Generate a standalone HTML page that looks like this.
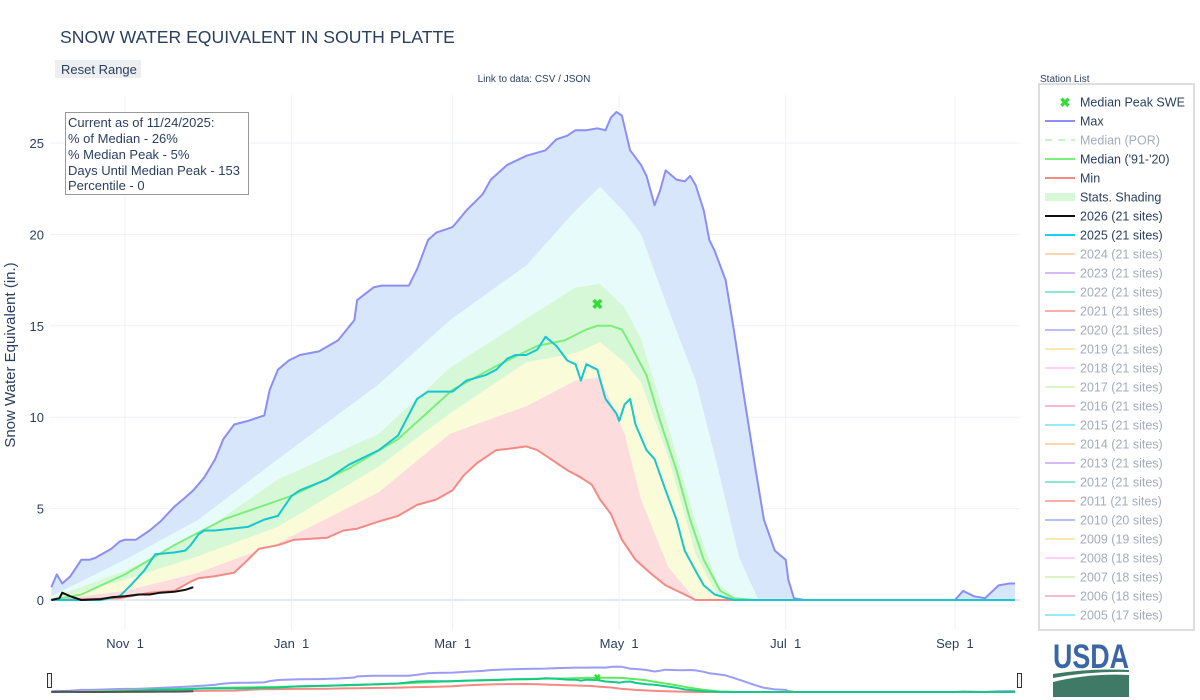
<!DOCTYPE html>
<html><head><meta charset="utf-8"><style>
html,body{margin:0;padding:0;background:#fff;width:1200px;height:700px;overflow:hidden;font-family:"Liberation Sans",Arial,sans-serif;}
svg text{font-family:"Liberation Sans",Arial,sans-serif;}
</style></head><body>
<svg id="chart" width="1200" height="700" xmlns="http://www.w3.org/2000/svg">
<text x="60" y="43" font-size="17.6" fill="#2a3f5f">SNOW WATER EQUIVALENT IN SOUTH PLATTE</text>
<g><rect x="55" y="60" width="86" height="18" fill="#eceef0"/><text x="61" y="74" font-size="13" fill="#2a3f5f">Reset Range</text></g>
<text x="534" y="82" font-size="10" fill="#2a3f5f" text-anchor="middle">Link to data: CSV / JSON</text>
<text x="1040" y="82" font-size="10" fill="#2a3f5f">Station List</text>
<g id="grid"></g>
<g id="bands"></g>
<g id="lines"></g>
<g id="axes"></g>
<text transform="translate(15,355) rotate(-90)" font-size="15" fill="#2a3f5f" text-anchor="middle">Snow Water Equivalent (in.)</text>
<g>
<rect x="65.5" y="112.5" width="183" height="82" fill="#fff" stroke="#999"/>
<text font-size="13" fill="#2a3f5f"><tspan x="68" y="127">Current as of 11/24/2025:</tspan><tspan x="68" y="143">% of Median - 26%</tspan><tspan x="68" y="159">% Median Peak - 5%</tspan><tspan x="68" y="175">Days Until Median Peak - 153</tspan><tspan x="68" y="190">Percentile - 0</tspan></text>
</g>
<g id="legend"><rect x="1039" y="84" width="155" height="546" fill="#fff" stroke="#ddd" stroke-width="2"/></g>
<g id="mini"></g>
<g>
<text x="1091" y="668" font-size="34" font-weight="bold" font-family="Liberation Serif,serif" fill="#3a66a8" text-anchor="middle" textLength="76" lengthAdjust="spacingAndGlyphs">USDA</text>
<path d="M1053,674 Q1090,668 1129,670 L1129,672 Q1090,671 1053,678 Z" fill="#3e7a66"/>
<path d="M1053,682 Q1090,673 1129,675 L1129,697 L1053,697 Z" fill="#3e7a66"/>
</g>
</svg>
<script>
const maxDays=[4,6,8,11,15,18,20,26,29,31,35,40,44,49,53,56,60,64,67,71,76,82,84,87,91,95,102,109,115,116,122,125,135,138,142,145,151,156,162,165,171,178,185,189,193,196,200,204,207,209,211,213,216,220,222,225,227,229,233,236,238,240,243,245,247,251,254,258,262,265,269,273,274,276,280,300,320,335,338,342,346,351,355,357];
const maxVals=[0.7,1.4,0.9,1.3,2.2,2.2,2.3,2.8,3.2,3.3,3.3,3.8,4.3,5.1,5.6,6.0,6.7,7.7,8.8,9.6,9.8,10.1,11.5,12.6,13.1,13.4,13.6,14.2,15.3,16.4,17.1,17.2,17.2,18.1,19.7,20.1,20.4,21.3,22.2,23.0,23.8,24.3,24.6,25.2,25.4,25.7,25.7,25.8,25.7,26.4,26.7,26.5,24.6,23.8,23.2,21.6,22.4,23.5,23.0,22.9,23.2,22.7,21.3,19.7,19.1,17.5,14.8,10.9,7.1,4.4,2.7,2.2,1.1,0.1,0,0,0,0,0.5,0.2,0.1,0.8,0.9,0.9];
const minDays=[4,29,40,49,55,58,64,71,76,80,87,93,105,111,116,124,131,138,145,151,155,160,167,173,178,182,187,193,198,202,205,209,213,218,224,229,236,240,357];
const minVals=[0,0.1,0.4,0.5,1.0,1.2,1.3,1.5,2.2,2.8,3.0,3.3,3.4,3.8,3.9,4.3,4.6,5.2,5.5,6.0,6.8,7.5,8.2,8.3,8.4,8.2,7.7,7.1,6.7,6.3,5.5,4.7,3.3,2.2,1.4,0.8,0.3,0,0];
const medDays=[4,15,31,49,67,92,113,131,151,167,182,192,200,204,209,213,216,222,227,233,238,243,249,254,262,357];
const medVals=[0,0.3,1.4,3.0,4.4,5.7,7.2,8.8,11.5,12.8,13.9,14.2,14.8,15.0,15.0,14.8,14.0,12.3,9.8,7.1,4.4,2.2,0.5,0.1,0,0];
const peakDay=204, peakVal=16.2;
const y25Days=[4,22,29,33,38,42,49,53,55,58,60,64,76,82,87,92,95,105,113,124,131,138,142,151,156,163,167,171,174,178,182,185,189,193,196,198,200,204,207,211,212,214,216,218,222,225,229,233,236,240,243,247,254,357];
const y25Vals=[0,0,0.2,0.8,1.6,2.5,2.6,2.7,3.0,3.6,3.8,3.8,4.0,4.4,4.6,5.7,6.0,6.6,7.4,8.2,9.0,11.0,11.4,11.4,12.0,12.3,12.6,13.2,13.4,13.4,13.7,14.4,13.9,13.1,12.9,12.0,12.9,12.6,11.0,10.2,9.8,10.7,11.0,9.6,8.2,7.7,6.0,4.4,2.7,1.6,0.8,0.3,0,0];
const y26Days=[4,7,8,11,15,22,26,31,36,40,44,49,53,56];
const y26Vals=[0,0.1,0.4,0.2,0,0.05,0.15,0.2,0.3,0.3,0.4,0.45,0.55,0.7];
const bandDays=[4,31,58,87,124,150,178,196,205,214,220,230,240,248,256,263,357];
const p90=[0.2,2.2,4.4,7.7,11.8,15.3,18.3,21.3,22.6,21.2,20.0,15.9,12.0,7.3,2.3,0,0];
const p70=[0.1,1.6,3.6,6.6,9.1,12.7,15.4,17.1,17.3,16.0,14.3,9.5,4.3,0.9,0,0,0];
const p50=[0,1.1,2.4,4.0,7.3,10.2,13.0,13.5,14.1,13.0,11.9,7.8,2.5,0.2,0,0,0];
const p30=[0,0.5,1.5,3.1,5.9,9.1,10.6,12.0,12.2,9.1,5.5,1.8,0,0,0,0,0];
const yTicks=[0,5,10,15,20,25];
const xTickDays=[31,92,151,212,273,335];
const xTickLabels=["Nov  1","Jan  1","Mar  1","May  1","Jul  1","Sep  1"];
const legendLabels=["Median Peak SWE","Max","Median (POR)","Median ('91-'20)","Min","Stats. Shading","2026 (21 sites)","2025 (21 sites)","2024 (21 sites)","2023 (21 sites)","2022 (21 sites)","2021 (21 sites)","2020 (21 sites)","2019 (21 sites)","2018 (21 sites)","2017 (21 sites)","2016 (21 sites)","2015 (21 sites)","2014 (21 sites)","2013 (21 sites)","2012 (21 sites)","2011 (21 sites)","2010 (20 sites)","2009 (19 sites)","2008 (18 sites)","2007 (18 sites)","2006 (18 sites)","2005 (17 sites)"];

const NS="http://www.w3.org/2000/svg";
const X0=50,X1=1020;
const xs=d=>40.4+d*2.73;
const ys=v=>600-v*18.28;
const mys=v=>692-v*0.95;
function mk(tag,attrs,parent){const e=document.createElementNS(NS,tag);for(const k in attrs)e.setAttribute(k,attrs[k]);parent.appendChild(e);return e;}
function pts(days,vals,yf){return days.map((d,i)=>Math.max(X0,Math.min(X1,xs(d))).toFixed(1)+","+yf(vals[i]).toFixed(1)).join(" ");}
const grid=document.getElementById('grid'),bands=document.getElementById('bands'),lines=document.getElementById('lines'),axes=document.getElementById('axes');
yTicks.forEach(t=>{
  const l=mk('line',{x1:X0,x2:X1,y1:ys(t),y2:ys(t),stroke:t===0?'#e4e8f0':'#eef1f7','stroke-width':t===0?2:1},grid);
  
  
  const tx=mk('text',{x:44,y:ys(t)+5,'font-size':13,fill:'#2a3f5f','text-anchor':'end'},axes);
  tx.textContent=t;
  
  
});
xTickDays.forEach((d,i)=>{
  const l=mk('line',{x1:xs(d),x2:xs(d),y1:95,y2:630,stroke:'#eef1f7'},grid);
  
  
  const tx=mk('text',{x:xs(d),y:648,'font-size':13,fill:'#2a3f5f','text-anchor':'middle'},axes);
  tx.textContent=xTickLabels[i].replace("  ","\u00a0\u00a0");
  
  
});
function band(ud,uv,ld,lv,fill,name){
  const up=pts(ud,uv,ys);
  const lo=pts(ld.slice().reverse(),lv.slice().reverse(),ys);
  const p=mk('polygon',{points:up+" "+lo,fill:fill},bands);
  
  
}
band(maxDays,maxVals,bandDays,p90,'#d7e6fa','band-max-p90');
band(bandDays,p90,bandDays,p70,'#e7fbfb','band-p90-p70');
band(bandDays,p70,bandDays,p50,'#d6f8d6','band-p70-p50');
band(bandDays,p50,bandDays,p30,'#fafbd8','band-p50-p30');
band(bandDays,p30,minDays,minVals,'#fcdcdc','band-p30-min');
function line(days,vals,color,w,name,parent,yf){
  const p=mk('polyline',{points:pts(days,vals,yf||ys),fill:'none',stroke:color,'stroke-width':w,'stroke-linejoin':'round'},parent||lines);
  
  
}
line(maxDays,maxVals,'#8c8ef5',2,'max-line');
line(minDays,minVals,'#f38a84',2,'min-line');
line(medDays,medVals,'#7cee7c',2,'median-line');
line(y25Days,y25Vals,'#17c6d0',2,'line-2025');
line(y26Days,y26Vals,'#111',2,'line-2026');
const pk=mk('text',{x:xs(peakDay),y:ys(peakVal)+5,'font-size':14,'font-weight':'bold',fill:'#33dd33','text-anchor':'middle'},lines);
pk.textContent='✖';


const leg=document.getElementById('legend');
const legColors=[null,'#8c8ef5','#c8f5c8','#7cee7c','#f38a84','#d6f8d6','#111','#17d0f0','#FFA15A','#ab63fa','#00cc96','#EF553B','#636efa','#FECB52','#FF97FF','#B6E880','#FF6692','#19d3f3','#FFA15A','#ab63fa','#00cc96','#EF553B','#636efa','#FECB52','#FF97FF','#B6E880','#FF6692','#19d3f3'];
legendLabels.forEach((lab,i)=>{
  const y=102+i*19;
  const g=mk('g',{},leg);
  
  
  const faded=(i===2||i>=8);
  if(i===0){const t=mk('text',{x:1065,y:y+5,'font-size':13,'font-weight':'bold',fill:'#33dd33','text-anchor':'middle'},g);t.textContent='✖';}
  else if(i===5){mk('rect',{x:1045,y:y-4,width:30,height:8,fill:legColors[i]},g);}
  else {const a={x1:1045,x2:1075,y1:y,y2:y,stroke:legColors[i],'stroke-width':2};if(i===2)a['stroke-dasharray']='7,6';if(i>=8)a.opacity=0.45;mk('line',a,g);}
  const t=mk('text',{x:1080,y:y+4.5,'font-size':12.5,fill:faded?'#a4abbb':'#2a3f5f'},g);
  t.textContent=lab;
});
const mini=document.getElementById('mini');
line(maxDays,maxVals,'#9a9cf6',2,'mini-max-line',mini,mys);
line(minDays,minVals,'#f38a84',2,'mini-min-line',mini,mys);
line(medDays,medVals,'#5ee85e',2,'mini-median-line',mini,mys);
line(y25Days,y25Vals,'#12c98a',2,'mini-line-2025',mini,mys);
line(y26Days,y26Vals,'#555',2,'mini-line-2026',mini,mys);
const mp=mk('text',{x:xs(peakDay),y:mys(peakVal)+4,'font-size':9,'font-weight':'bold',fill:'#33dd33','text-anchor':'middle'},mini);
mp.textContent='✖';


[[47,'left'],[1017,'right']].forEach(([x,n])=>{
  const h=mk('rect',{x:x+0.5,y:673.5,width:4,height:14,fill:'#f2f2f2',stroke:'#333'},mini);
  
  
});
</script>
</body></html>
